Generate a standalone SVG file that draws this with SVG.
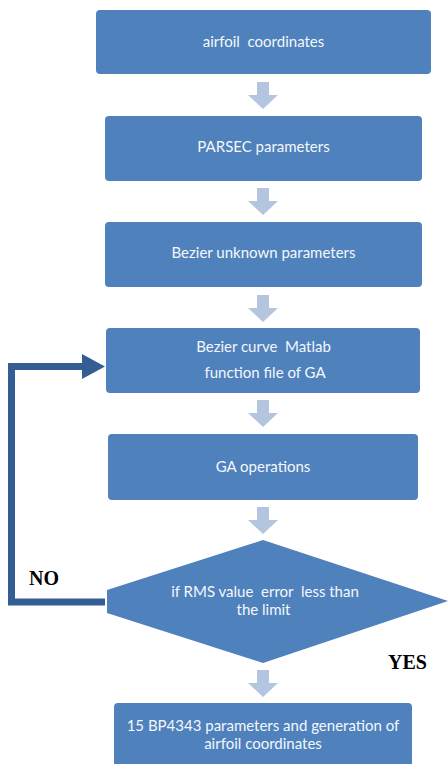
<svg xmlns="http://www.w3.org/2000/svg" width="448" height="764" viewBox="0 0 448 764">
  <defs>
    <style>
      .box { fill: #4f81bd; }
      .lbl { fill: #f4f7fb; font-family: "Lato", "Open Sans", sans-serif; font-size: 15px; text-anchor: middle; white-space: pre; }
      .flow { fill: #b4c5df; }
      .loop { fill: none; stroke: #335e93; stroke-width: 7; }
      .tag { fill: #000; font-family: "Liberation Serif", serif; font-size: 20px; font-weight: bold; }
    </style>
    <path id="down" d="M-6,0 H6 V13 H15 L0,27 L-15,13 H-6 Z"/>
  </defs>

  <rect width="448" height="764" fill="#fff"/>

  <!-- connectors -->
  <g id="connectors">
    <use href="#down" class="flow" x="263" y="82"/>
    <use href="#down" class="flow" x="263" y="188"/>
    <use href="#down" class="flow" x="263" y="295"/>
    <use href="#down" class="flow" x="263" y="400"/>
    <use href="#down" class="flow" x="263" y="507"/>
    <use href="#down" class="flow" x="263" y="670"/>
    <!-- NO loop back to the Matlab function step -->
    <polyline class="loop" points="105,602 11.5,602 11.5,366.5 84,366.5"/>
    <polygon fill="#335e93" points="82,354 105,366.5 82,379"/>
  </g>

  <g id="n1">
    <rect class="box" x="96" y="10" width="335" height="64" rx="4"/>
    <text class="lbl" x="263.5" y="47">airfoil  coordinates</text>
  </g>
  <g id="n2">
    <rect class="box" x="105" y="116" width="317" height="65" rx="4"/>
    <text class="lbl" x="263.5" y="152">PARSEC parameters</text>
  </g>
  <g id="n3">
    <rect class="box" x="105" y="222" width="317" height="65" rx="4"/>
    <text class="lbl" x="263.5" y="258">Bezier unknown parameters</text>
  </g>
  <g id="n4">
    <rect class="box" x="106" y="328" width="314" height="65" rx="4"/>
    <text class="lbl" x="263.5" y="352">Bezier curve  Matlab</text>
    <text class="lbl" x="265" y="378">function file of GA</text>
  </g>
  <g id="n5">
    <rect class="box" x="108" y="434" width="310" height="66" rx="4"/>
    <text class="lbl" x="263" y="472">GA operations</text>
  </g>
  <g id="n6">
    <polygon class="box" points="263,540 448,601 263,663 107,613 107,590"/>
    <text class="lbl" x="265" y="597">if RMS value  error  less than</text>
    <text class="lbl" x="263.5" y="615">the limit</text>
  </g>
  <g id="n7">
    <path class="box" d="M114,707 Q114,703 118,703 H408 Q412,703 412,707 V764 H114 Z"/>
    <text class="lbl" x="263" y="731">15 BP4343 parameters and generation of</text>
    <text class="lbl" x="263" y="749">airfoil coordinates</text>
  </g>

  <text class="tag" x="29" y="585">NO</text>
  <text class="tag" x="388" y="669">YES</text>
</svg>
